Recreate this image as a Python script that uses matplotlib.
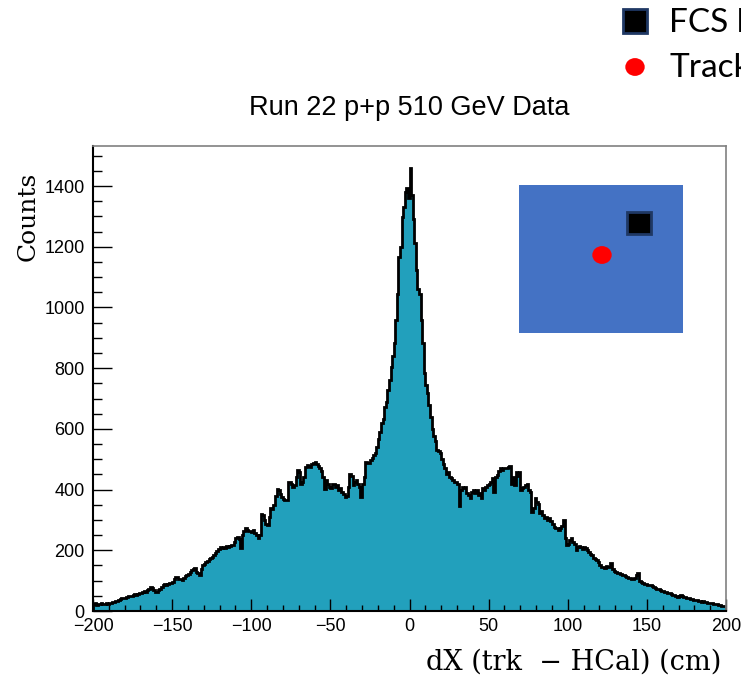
import numpy as np
import matplotlib
matplotlib.use("Agg")
import matplotlib.pyplot as plt
from matplotlib.patches import Rectangle, Circle
from matplotlib.ticker import MultipleLocator

# dX histogram, 1 cm bins from -200 to 200
edges = np.arange(-200, 201, 1)

counts_m200 = [22, 25, 21, 24, 22, 27, 23, 22, 25, 24,
               26, 28, 30, 31, 33, 34, 37, 38, 42, 44]
counts_m180 = [43, 46, 48, 50, 49, 52, 55, 53, 57, 60,
               58, 62, 65, 63, 68, 72, 80, 75, 70, 64]
counts_m160 = [62, 68, 72, 78, 85, 88, 86, 89, 91, 92,
               95, 104, 113, 111, 106, 104, 102, 108, 115, 119]
counts_m140 = [122, 128, 134, 140, 141, 130, 124, 118, 140, 152,
               156, 162, 166, 170, 174, 179, 184, 190, 198, 204]
counts_m120 = [210, 209, 212, 208, 214, 210, 215, 218, 217, 228,
               240, 244, 238, 206, 250, 262, 272, 268, 265, 262]
counts_m100 = [261, 266, 258, 252, 239, 250, 321, 316, 300, 288,
               283, 310, 338, 336, 350, 380, 403, 398, 387, 376]
counts_m80 = [370, 365, 365, 426, 424, 420, 409, 415, 440, 464,
              458, 420, 426, 440, 475, 481, 478, 476, 485, 488]
counts_m60 = [492, 485, 478, 470, 460, 440, 403, 431, 420, 410,
              404, 420, 418, 410, 415, 398, 404, 393, 385, 376]
counts_m40 = [380, 410, 453, 445, 415, 426, 431, 420, 410, 376,
              420, 442, 492, 486, 488, 497, 505, 514, 519, 540]
counts_m20 = [568, 590, 618, 632, 673, 690, 728, 760, 805, 840,
              882, 958, 1046, 1167, 1200, 1299, 1330, 1380, 1392, 1360]
counts_p0 = [1458, 1370, 1290, 1211, 1123, 1060, 1046, 958, 882, 783,
             745, 717, 680, 640, 600, 578, 560, 530, 527, 520]
counts_p20 = [500, 485, 470, 453, 458, 443, 437, 432, 426, 424,
              420, 345, 400, 409, 404, 409, 390, 382, 371, 392]
counts_p40 = [398, 390, 398, 382, 388, 371, 404, 400, 409, 415,
              420, 425, 437, 393, 443, 448, 460, 470, 465, 470]
counts_p60 = [470, 472, 476, 478, 420, 440, 414, 459, 445, 459,
              398, 405, 409, 415, 420, 398, 392, 327, 340, 371]
counts_p80 = [360, 354, 322, 330, 315, 305, 311, 300, 305, 296,
              285, 277, 272, 275, 268, 272, 280, 299, 240, 217]
counts_p100 = [222, 234, 239, 228, 222, 201, 212, 215, 211, 205,
               212, 208, 200, 195, 188, 184, 173, 170, 168, 160]
counts_p120 = [150, 146, 146, 142, 148, 144, 146, 157, 140, 132,
               130, 124, 126, 121, 119, 118, 115, 113, 110, 108]
counts_p140 = [106, 104, 110, 120, 124, 100, 95, 91, 90, 88,
               87, 85, 86, 84, 80, 77, 74, 71, 69, 67]
counts_p160 = [65, 63, 61, 59, 58, 56, 54, 52, 49, 47,
               50, 52, 48, 47, 46, 44, 42, 41, 39, 36]
counts_p180 = [37, 35, 34, 33, 31, 33, 30, 29, 27, 26,
               25, 26, 24, 22, 23, 21, 19, 18, 17, 16]

counts = np.array(counts_m200 + counts_m180 + counts_m160 + counts_m140 +
                  counts_m120 + counts_m100 + counts_m80 + counts_m60 +
                  counts_m40 + counts_m20 + counts_p0 + counts_p20 +
                  counts_p40 + counts_p60 + counts_p80 + counts_p100 +
                  counts_p120 + counts_p140 + counts_p160 + counts_p180)

W, H = 741, 680
fig = plt.figure(figsize=(W / 100, H / 100), dpi=100)

def fx(x):
    return x / W

def fy(y):
    return 1 - y / H

ax = fig.add_axes([fx(93), fy(611), fx(726) - fx(93), fy(146) - fy(611)])

ax.stairs(counts, edges, fill=True, color='#22a0bc', baseline=0)
ax.stairs(counts, edges, color='black', lw=2, baseline=0)

ax.set_xlim(-200, 200)
ax.set_ylim(0, 1532)
ax.xaxis.set_major_locator(MultipleLocator(50))
ax.xaxis.set_minor_locator(MultipleLocator(10))
ax.yaxis.set_major_locator(MultipleLocator(200))
ax.yaxis.set_minor_locator(MultipleLocator(50))

ax.tick_params(axis='x', which='major', direction='in', length=9, width=1, pad=5)
ax.tick_params(axis='x', which='minor', direction='in', length=4.5, width=1)
ax.tick_params(axis='y', which='major', direction='in', length=13.5, width=1, pad=6)
ax.tick_params(axis='y', which='minor', direction='in', length=6.5, width=1)
for lab in ax.get_xticklabels() + ax.get_yticklabels():
    lab.set_fontfamily('Liberation Sans')
    lab.set_fontsize(13)

for side in ['left', 'bottom']:
    ax.spines[side].set_linewidth(1.5)
    ax.spines[side].set_color('black')
for side in ['top', 'right']:
    ax.spines[side].set_linewidth(1.2)
    ax.spines[side].set_color('#808080')

fig.text(fx(409), fy(108), 'Run 22 p+p 510 GeV Data', ha='center', va='center',
         family='Liberation Sans', fontsize=19.5)

fig.text(fx(28), fy(216), 'Counts', rotation=90, ha='center', va='center',
         family='DejaVu Serif', fontsize=18)
fig.text(fx(721), fy(662), 'dX (trk  − HCal) (cm)', ha='right', va='center',
         family='DejaVu Serif', fontsize=19.5)

# inset sketch of tower and track position
fig.add_artist(Rectangle((fx(519), fy(333)), fx(683) - fx(519), fy(185) - fy(333),
                         transform=fig.transFigure, facecolor='#4472c4', edgecolor='none'))
fig.add_artist(Rectangle((fx(627), fy(234)), fx(651) - fx(627), fy(212) - fy(234),
                         transform=fig.transFigure, facecolor='black',
                         edgecolor='#1f3864', lw=2))
fig.add_artist(Circle((fx(602), fy(255)), 9.7 / W, transform=fig.transFigure,
                      facecolor='red', edgecolor='none'))

# key at top right
fig.add_artist(Rectangle((fx(623), fy(33)), fx(647) - fx(623), fy(9) - fy(33),
                         transform=fig.transFigure, facecolor='black',
                         edgecolor='#1f3864', lw=2))
fig.add_artist(Circle((fx(635), fy(67)), 9.7 / W, transform=fig.transFigure,
                      facecolor='red', edgecolor='none'))
fig.text(fx(669), fy(32), 'FCS hit', ha='left', va='baseline',
         family='Lato', fontsize=24)
fig.text(fx(669), fy(77), 'Track', ha='left', va='baseline',
         family='Lato', fontsize=24)

fig.savefig('out.png', dpi=100)
